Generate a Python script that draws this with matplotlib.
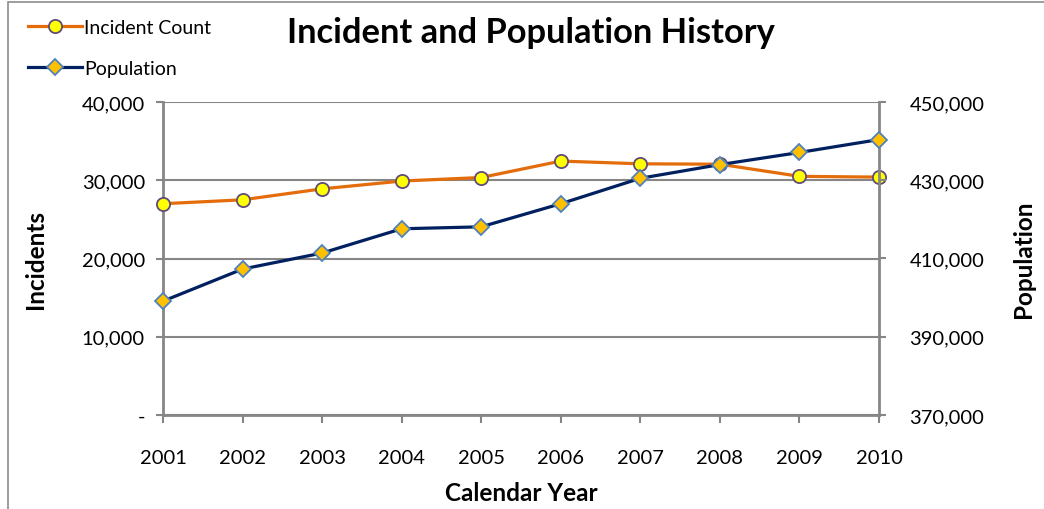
import matplotlib
matplotlib.use("Agg")
import matplotlib.pyplot as plt
from matplotlib.ticker import FuncFormatter
from matplotlib.patches import Rectangle

years = ["2001", "2002", "2003", "2004", "2005", "2006", "2007", "2008", "2009", "2010"]
incidents = [27000, 27500, 28900, 29900, 30350, 32450, 32100, 32050, 30500, 30400]
population = [399100, 407300, 411400, 417600, 418100, 424000, 430500, 434000, 437100, 440400]

plt.rcParams['font.family'] = ['Lato', 'DejaVu Sans']

fig = plt.figure(figsize=(10.44, 5.10), dpi=100)
fig.patches.append(Rectangle((8/1044, -0.1), 1.2, 1 - 3/510 + 0.1, transform=fig.transFigure,
                             fill=False, edgecolor='#8c8c8c', linewidth=1.2, zorder=0))

ax = fig.add_axes([163/1044, 1 - 416/510, (879 - 163)/1044, (416 - 103)/510])
ax2 = ax.twinx()

gray = '#868686'
x = list(range(len(years)))

l1, = ax.plot(x, incidents, color='#E46C0A', linewidth=2.3, marker='o', markersize=9.5,
              markerfacecolor='#FFFF00', markeredgecolor='#604A7B', markeredgewidth=1.3,
              label='Incident Count', clip_on=False, zorder=3)
l2, = ax2.plot(x, population, color='#002060', linewidth=2.3, marker='D', markersize=8.5,
               markerfacecolor='#FFC000', markeredgecolor='#4F81BD', markeredgewidth=1.3,
               label='Population', clip_on=False, zorder=3)

ax.set_xlim(0, 9)
ax.set_ylim(0, 40000)
ax2.set_ylim(370000, 450000)
ax.set_yticks([0, 10000, 20000, 30000, 40000])
ax2.set_yticks([370000, 390000, 410000, 430000, 450000])
ax.set_xticks(x)
ax.set_xticklabels(years)

ax.yaxis.set_major_formatter(FuncFormatter(lambda v, p: '-' if v == 0 else f"{v:,.0f}"))
ax2.yaxis.set_major_formatter(FuncFormatter(lambda v, p: f"{v:,.0f}"))

ax.grid(axis='y', color=gray, linewidth=1.5)
ax.set_axisbelow(True)

for a in (ax, ax2):
    for s in a.spines.values():
        s.set_visible(False)
ax.spines['left'].set_visible(True)
ax.spines['bottom'].set_visible(True)
ax2.spines['right'].set_visible(True)
for s in (ax.spines['left'], ax.spines['bottom'], ax2.spines['right']):
    s.set_color(gray)
    s.set_linewidth(2)

ax.tick_params(axis='y', length=5, width=1.5, color=gray, labelsize=14.5, pad=8)
ax2.tick_params(axis='y', length=5, width=1.5, color=gray, labelsize=14.5, pad=17)
ax.tick_params(axis='x', length=6, width=1.5, color=gray, labelsize=14.5, pad=18.5)

ax.set_ylabel('Incidents', fontsize=17.5, fontweight='bold', labelpad=25)
ax2.set_ylabel('Population', fontsize=17.5, fontweight='bold', labelpad=20, rotation=90)
ax.set_xlabel('Calendar Year', fontsize=17.5, fontweight='bold', labelpad=11)

fig.text(531/1044, 1 - 33/510, 'Incident and Population History', ha='center', va='center',
         fontsize=24.8, fontweight='bold')

fig.legend(handles=[l1, l2], loc='upper left', bbox_to_anchor=(14/1044, 1 - 6/510),
           frameon=False, fontsize=14, labelspacing=1.25, handlelength=2.8, handletextpad=0.1,
           borderpad=0.2)

fig.savefig('out.png', dpi=100)
